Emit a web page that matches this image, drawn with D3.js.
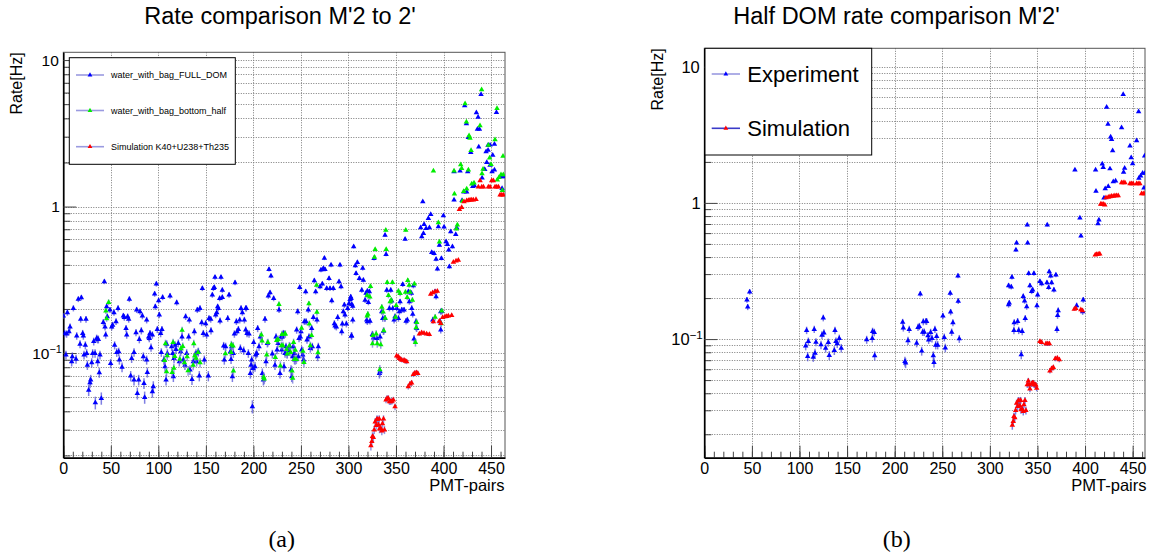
<!DOCTYPE html>
<html>

<head>
	<title>Rate comparison</title>
	<meta charset="utf-8">
	<script src="https://d3js.org/d3.v7.min.js"></script>
	<style>
		body { margin: 0; background: #fff; }
		text { font-family: "Liberation Sans", Arial, sans-serif; fill: #000; }
	</style>
</head>

<body>

	<svg id="chart" width="1149" height="559"></svg>

	<script>
		// PMT-pair index and rate [Hz]
		var fullDom = [
			[0.0,0.179],[4.3,0.189],[1.4,0.136],[3.5,0.135],[7.1,0.151],[6.0,0.140],[2.8,0.097],[9.5,0.0945],[8.8,0.0873],[13.4,0.091],
			[10.6,0.202],[14.1,0.131],[15.8,0.233],[19.0,0.239],[18.3,0.170],[17.6,0.115],[20.4,0.136],[21.1,0.131],[21.8,0.097],[23.2,0.113],
			[23.9,0.170],[24.6,0.0995],[25.3,0.0828],[26.7,0.0559],[28.1,0.0628],[28.8,0.0655],[29.9,0.0859],[30.9,0.0995],[32.0,0.120],[33.4,0.0995],
			[33.7,0.0458],[35.1,0.126],[36.2,0.124],[36.9,0.124],[36.2,0.0873],[37.9,0.0735],[38.6,0.097],[40.0,0.0491],[42.1,0.162],[43.2,0.307],
			[43.9,0.151],[44.6,0.133],[45.6,0.207],[46.3,0.177],[49.1,0.197],[49.8,0.085],[50.9,0.151],[51.9,0.155],[53.3,0.189],[54.0,0.113],
			[55.5,0.164],[56.2,0.101],[57.6,0.202],[58.3,0.102],[59.0,0.0897],[61.8,0.080],[63.2,0.179],[64.2,0.175],[66.0,0.147],[66.7,0.133],
			[67.7,0.177],[68.8,0.170],[69.5,0.233],[71.9,0.092],[70.9,0.0697],[74.4,0.0655],[74.4,0.101],[76.5,0.138],[77.9,0.0531],[79.3,0.0655],
			[77.2,0.197],[80.0,0.124],[80.7,0.192],[82.1,0.142],[83.2,0.179],[84.2,0.0945],[84.9,0.0621],[85.6,0.0498],[87.7,0.0897],[88.4,0.0738],
			[87.7,0.168],[89.8,0.129],[90.5,0.126],[91.2,0.136],[92.3,0.109],[93.7,0.0545],[94.7,0.059],[93.7,0.133],[96.1,0.253],[96.8,0.207],
			[97.9,0.296],[98.9,0.145],[100.3,0.228],[101.0,0.182],[102.4,0.136],[103.1,0.101],[103.8,0.145],[104.5,0.240],[105.9,0.0897],[107.0,0.0807],
			[108.1,0.0655],[108.8,0.115],[109.5,0.0995],[112.3,0.245],[114.0,0.1105],[115.1,0.0995],[115.8,0.069],[116.5,0.092],[117.5,0.113],[118.6,0.106],
			[119.3,0.221],[121.0,0.1165],[122.1,0.0873],[123.5,0.102],[124.9,0.129],[126.3,0.0897],[128.0,0.0828],[128.7,0.177],[129.8,0.0995],[131.9,0.129],
			[132.6,0.168],[133.3,0.0766],[135.4,0.0661],[136.8,0.0873],[137.9,0.140],[139.6,0.0995],[140.3,0.0873],[141.0,0.197],[142.1,0.102],[143.1,0.0697],
			[143.8,0.202],[145.6,0.161],[146.3,0.276],[147.3,0.136],[148.4,0.0897],[149.8,0.159],[150.8,0.133],[152.6,0.0697],[153.3,0.1725],
			[155.4,0.142],[155.1,0.170],[156.8,0.249],[157.9,0.276],[158.9,0.281],[159.6,0.329],[160.3,0.182],[161.4,0.189],[162.4,0.207],[163.1,0.202],
			[164.5,0.236],[164.9,0.166],[165.9,0.329],[167.3,0.269],[167.3,0.240],[168.7,0.112],[169.4,0.0897],[170.8,0.1105],[173.0,0.1725],[174.4,0.249],
			[175.8,0.102],[176.5,0.0906],[177.2,0.1105],[177.9,0.069],[178.9,0.0995],[180.0,0.135],[180.7,0.302],[182.1,0.164],[182.8,0.140],[184.2,0.145],
			[185.6,0.168],[186.3,0.1076],[187.0,0.202],[188.4,0.189],[189.8,0.104],[190.5,0.168],[191.9,0.202],[191.9,0.1436],[192.6,0.202],[193.3,0.136],
			[194.7,0.0995],[195.4,0.135],[196.8,0.0727],[197.5,0.0828],[198.2,0.0897],[198.9,0.0431],[199.6,0.0786],[200.3,0.118],[201.7,0.0807],[202.4,0.097],
			[203.5,0.0995],[204.5,0.147],[205.9,0.1105],[207.3,0.129],[209.4,0.0727],[210.5,0.0655],[212.2,0.170],[213.3,0.0873],[214.7,0.1165],[215.7,0.245],
			[216.4,0.373],[217.5,0.258],[218.5,0.336],[219.9,0.0985],[221.3,0.236],[222.7,0.0828],[223.8,0.129],[224.9,0.105],[225.9,0.1165],[227.0,0.197],
			[228.0,0.0727],[229.1,0.129],[229.8,0.105],[230.5,0.129],[231.5,0.136],[232.2,0.0807],[233.3,0.0995],[234.3,0.1105],[235.4,0.0985],[237.5,0.104],
			[238.5,0.1105],[239.6,0.0766],[240.3,0.069],[241.3,0.0945],[242.0,0.1105],[243.1,0.0995],[243.8,0.0897],[245.5,0.1436],[246.6,0.192],[247.3,0.0945],
			[248.0,0.126],[248.7,0.281],[249.4,0.129],[250.1,0.140],[250.8,0.105],[251.9,0.097],[252.9,0.0897],[253.6,0.164],[255.0,0.262],[255.4,0.164],
			[256.4,0.123],[257.8,0.197],[258.5,0.129],[259.9,0.1076],[261.3,0.147],[262.0,0.1105],[263.1,0.175],[264.1,0.312],[265.5,0.262],[266.9,0.168],
			[267.6,0.0945],[268.3,0.1105],[270.1,0.284],[271.1,0.369],[272.5,0.296],[273.6,0.378],[274.7,0.445],[275.3,0.373],[277.1,0.276],[279.6,0.3235],
			[280.6,0.276],[281.7,0.399],[282.4,0.228],[284.1,0.276],[285.2,0.159],[285.9,0.153],[287.3,0.151],[288.7,0.175],[290.1,0.307],[291.1,0.399],
			[292.2,0.284],[292.9,0.140],[293.6,0.158],[294.6,0.192],[295.7,0.213],[296.4,0.182],[297.8,0.158],[299.2,0.202],[300.6,0.218],[301.7,0.2325],
			[302.4,0.242],[303.4,0.131],[304.5,0.209],[305.5,0.532],
			[439.5,5.83],[422.3,4.88],[434.6,4.37],[436.4,4.08],[455.7,4.39],[424.1,3.68],[435.7,3.38],[437.8,3.38],[426.2,2.97],[437.1,2.55],
			[446.9,2.62],[449.0,2.63],[453.6,2.67],[444.8,2.37],[446.9,2.43],[428.7,2.34],[451.8,2.24],[445.5,2.00],[449.0,1.92],[453.6,1.78],
			[451.1,1.73],[443.4,1.79],[440.6,1.57],[411.1,1.73],[417.4,1.75],[425.5,1.73],[430.8,1.37],[432.5,1.39],[421.6,1.26],[424.4,1.26],
			[419.5,1.10],[411.1,1.11],[461.3,1.60],[463.0,1.60],[461.6,1.33],[378.2,1.08],[399.9,0.866],[386.6,0.885],[384.1,0.831],
			[379.6,0.756],[376.0,0.717],[381.7,0.710],[377.1,0.623],[378.9,0.656],[385.2,0.717],[400.6,0.725],[394.6,0.729],[359.6,0.600],[338.5,0.639],
			[407.6,0.673],[412.9,0.646],[413.9,0.717],[402.7,0.576],[395.7,0.546],[404.1,0.552],[409.4,0.532],[405.5,0.505],[387.6,0.487],[390.1,0.479],
			[392.2,0.438],[397.8,0.443],[393.6,0.375],[406.2,0.389],[339.6,0.472],[326.9,0.443],[307.3,0.395],[309.4,0.416],[308.0,0.350],[311.5,0.3235],
			[315.0,0.379],[315.7,0.315],[314.0,0.269],[319.9,0.265],[318.5,0.256],[322.0,0.262],[321.0,0.222],[317.5,0.230],[303.5,0.215],[302.8,0.236],
			[304.5,0.168],[303.1,0.131],[319.2,0.168],[319.9,0.164],[322.7,0.165],[325.2,0.134],[326.3,0.127],[329.8,0.126],[333.3,0.129],[336.8,0.141],
			[335.0,0.192],[336.1,0.1725],[338.2,0.1725],[344.5,0.269],[340.3,0.269],[345.5,0.2265],[343.1,0.202],[346.6,0.202],[350.8,0.202],[353.6,0.192],
			[356.1,0.197],[358.5,0.197],[352.6,0.1725],[360.6,0.165],[362.0,0.168],[354.3,0.224],[357.1,0.294],[363.1,0.262],[366.2,0.256],[364.1,0.224],
			[368.3,0.288],[366.6,0.202],[371.1,0.164],[371.8,0.1475],[367.6,0.184],[369.0,0.125],[348.0,0.168],[349.0,0.177],[388.7,0.168],[397.1,0.192],
			[396.4,0.164],[397.1,0.144],[332.6,0.0727],[333.3,0.0746],[398.1,0.193],[392.2,0.2425],[391.1,0.262]
		];

		// bottom half of the DOM (green on the left, "Experiment" on the right)
		var halfDom = [
			[44.8,0.194],[45.6,0.172],[47.7,0.222],[106.5,0.089],[107.5,0.116],[108.6,0.0745],[109.3,0.096],[114.5,0.0738],[115.5,0.118],[116.3,0.0789],
			[117.3,0.095],[122.6,0.0908],[123.6,0.107],[125.0,0.143],[125.7,0.111],[127.5,0.0859],[130.3,0.0944],[131.3,0.0758],[136.6,0.0825],[137.3,0.116],
			[138.3,0.096],[139.7,0.0924],[141.8,0.101],[143.9,0.0859],[170.6,0.099],[176.5,0.101],[176.8,0.114],[178.6,0.112],[179.0,0.0754],
			[208.4,0.133],[209.1,0.121],[210.8,0.0685],[211.5,0.0667],[214.0,0.0972],[215.3,0.118],[223.1,0.0935],[224.5,0.122],[225.9,0.124],[226.9,0.215],
			[228.4,0.0817],[229.4,0.1125],[230.1,0.134],[231.1,0.1125],[232.9,0.135],[233.6,0.135],[235.0,0.106],[235.7,0.0988],[237.8,0.112],[239.2,0.101],
			[240.6,0.0754],[241.3,0.0674],[242.3,0.118],[243.1,0.0904],[244.1,0.1045],[245.2,0.0904],[250.7,0.148],[252.1,0.103],[253.2,0.0863],[258.4,0.217],
			[258.8,0.158],[259.9,0.1125],[261.2,0.132],[266.5,0.291],[266.8,0.190],[267.9,0.1005],
			[319.7,0.247],[319.7,0.179],[320.4,0.184],[322.5,0.242],[323.2,0.285],[325.3,0.116],[325.6,0.132],[327.4,0.452],[328.1,0.509],[329.2,0.135],
			[330.3,0.116],[333.0,0.077],[334.0,0.114],[335.1,0.206],[336.5,0.191],[337.2,0.142],[338.7,0.173],[339.3,0.69],[339.7,0.509],[340.8,0.303],
			[342.1,0.247],[343.9,0.224],[345.0,0.23],[346.3,0.303],[349.5,0.176],[350.2,0.211],[352.6,0.265],[354.4,0.255],[360.0,0.26],[360.3,0.69],
			[361.8,0.24],[362.4,0.313],[363.9,0.291],[364.9,0.26],[367.3,0.23],[369.4,0.296],[370.5,0.118],[371.2,0.149],[371.8,0.162],[389.4,1.75],
			[391.2,0.176],[394.6,0.776],[395.7,0.573],[397.5,0.159],[398.1,0.194],[411.1,1.75],[411.5,1.22],[413.6,0.705],[414.6,0.75],[418.1,1.93],
			[419.1,1.82],[419.9,1.09],[421.2,1.27],[422.7,5.04],[424.1,3.78],[424.4,1.32],[426.2,1.78],[426.9,3.05],[427.9,2.93],[429.0,2.42],
			[429.7,1.43],[432.1,1.45],[438.4,3.57],[440.1,6.27],[440.5,1.68],[441.6,1.80],[447.2,2.62],[448.5,2.15],[450.0,1.94],[454.2,2.86],
			[456.3,4.68],[456.6,1.52],[458.4,1.58],[460.5,1.65],[461.9,1.29],[462.6,2.21],[462.9,1.65]
		];

		// simulation K40+U238+Th235 shown with the full DOM (left)
		var simFull = [
			[323.6,0.0233],[324.6,0.0249],[325.3,0.027],[326.2,0.0265],[327.1,0.0299],[328.1,0.0339],[329.2,0.032],[329.8,0.0353],[330.6,0.0353],[331.6,0.0324],
			[332.4,0.0355],[332.7,0.0303],[334.0,0.0306],[335.1,0.0294],[335.8,0.033],[336.9,0.0355],[337.9,0.0299],
			[339.5,0.0478],[340.6,0.049],[342.0,0.049],[343.2,0.0466],[344.4,0.0466],[345.8,0.047],[347.2,0.0478],[349.0,0.043],
			[350.7,0.0955],[352.5,0.094],[353.6,0.092],[355.0,0.091],[356.2,0.0895],[358.5,0.0895],[360.0,0.088],[361.3,0.0873],
			[363.0,0.059],[364.8,0.0615],[366.5,0.0625],[368.3,0.0715],[369.8,0.073],[371.5,0.0735],[373.0,0.0727],
			[374.6,0.135],[377.0,0.138],[379.5,0.1365],[382.3,0.135],[385.1,0.134],[386.5,0.252],[388.6,0.258],[391.1,0.262],[393.5,0.265],
			[389.3,0.1637],[395.6,0.165],[397.1,0.1594],[399.1,0.1754],[401.6,0.177],[403.3,0.178],[405.1,0.1794],[408.6,0.181],
			[410.4,0.418],[413.2,0.425],[415.6,0.431],[416.7,0.957],[419.1,0.987],[421.6,1.08],[424.4,1.096],[426.2,1.10],[427.9,1.108],
			[429.7,1.11],[431.4,1.108],[434.2,1.12],[436.7,1.36],[438.5,1.50],[440.2,1.36],[442.0,1.36],[447.2,1.36],[449.0,1.36],
			[450.7,1.50],[452.5,1.50],[454.2,1.36],[456.0,1.36],[457.8,1.36],[459.5,1.20],[461.3,1.20],[463.0,1.20]
		];

		// simulation for the half DOM (right)
		var simHalf = [
			[323.6,0.0233],[324.6,0.0249],[325.3,0.027],[326.2,0.0265],[327.1,0.0299],[328.1,0.0339],[329.2,0.032],[329.8,0.0353],[330.6,0.0353],[331.6,0.0324],
			[332.4,0.0355],[332.7,0.0303],[334.0,0.0306],[335.1,0.0294],[335.8,0.033],[336.9,0.0355],[337.9,0.0299],[339.3,0.0462],[340.4,0.0494],[341.2,0.0462],
			[342.1,0.043],[343.9,0.0468],[344.7,0.0476],[345.6,0.0476],[346.5,0.0462],[347.4,0.0462],[348.3,0.046],[349.2,0.0437],[352.6,0.096],[354.4,0.0944],
			[359.0,0.0924],[360.8,0.0924],[362.5,0.0924],[363.1,0.0585],[364.9,0.0607],[366.7,0.0619],[368.8,0.0717],[370.9,0.0725],[373.0,0.0705],[388.7,0.166],
			[390.3,0.168],[395.6,0.1643],[397.3,0.1616],[410.7,0.415],[412.1,0.418],[413.8,0.421],[415.5,0.422],[416.4,0.978],[417.7,0.978],[419.1,0.978],
			[420.8,0.966],[422.0,1.094],[424.4,1.10],[426.2,1.11],[427.9,1.12],[429.7,1.12],[431.4,1.13],[433.2,1.13],[434.9,1.13],[438.4,1.41],
			[440.1,1.41],[441.9,1.41],[447.2,1.386],[448.9,1.386],[450.5,1.386],[454.2,1.386],[455.9,1.386],[457.6,1.386],[459.4,1.17],[461.2,1.17],
			[462.9,1.17]
		];

		var xMajorTicks = [0, 50, 100, 150, 200, 250, 300, 350, 400, 450];
		var yLabelTicks = [0.1, 1, 10];
		var legendLeft = ['water_with_bag_FULL_DOM', 'water_with_bag_bottom_half', 'Simulation K40+U238+Th235'];
		var legendRight = ['Experiment', 'Simulation'];

		// counting time used for the Poisson error bars
		var expLiveTime = 2200;
		var simLiveTime = 8000;

		var svg = d3.select('#chart');
		var defs = svg.append('defs');

		var panels = [
			{ id: 'a', left: 63.3, right: 505, top: 52.3, bottom: 457.7, xMax: 464.7, yMin: 0.0193, yMax: 11.3,
				title: "Rate comparison M'2 to 2'", titleX: 280, caption: '(a)', capX: 281.7,
				yTitleX: 21.5, yTickFont: 15.5, xTitleRight: 504.5 },
			{ id: 'b', left: 704.3, right: 1145, top: 48.3, bottom: 457.7, xMax: 463, yMin: 0.01346, yMax: 13.65,
				title: "Half DOM rate comparison M'2'", titleX: 896.5, caption: '(b)', capX: 896.7,
				yTitleX: 663, yTickFont: 16.5, xTitleRight: 1146.5 }
		];

		function isDecade(v) {
			var l = Math.log10(v);
			return Math.abs(l - Math.round(l)) < 1e-6;
		}

		function drawPanel(p) {
			var x = d3.scaleLinear().domain([0, p.xMax]).range([p.left, p.right]);
			var y = d3.scaleLog().domain([p.yMin, p.yMax]).range([p.bottom, p.top]);
			var g = svg.append('g');

			defs.append('clipPath').attr('id', 'clip-' + p.id)
				.append('rect')
				.attr('x', p.left).attr('y', p.top)
				.attr('width', p.right - p.left).attr('height', p.bottom - p.top);

			var yAll = y.ticks().filter(function(v) { return v >= p.yMin && v <= p.yMax; });

			// grid
			var grid = g.append('g')
				.attr('stroke', '#7a7a7a')
				.attr('stroke-width', 1)
				.attr('stroke-dasharray', '1,1.5');
			grid.selectAll('.gy').data(yAll).enter().append('line')
				.attr('x1', p.left).attr('x2', p.right)
				.attr('y1', function(d) { return Math.round(y(d)) + 0.5; })
				.attr('y2', function(d) { return Math.round(y(d)) + 0.5; });
			grid.selectAll('.gx').data(xMajorTicks.filter(function(d) { return d > 0; })).enter().append('line')
				.attr('y1', p.top).attr('y2', p.bottom)
				.attr('x1', function(d) { return Math.round(x(d)) + 0.5; })
				.attr('x2', function(d) { return Math.round(x(d)) + 0.5; });

			// frame
			g.append('rect')
				.attr('x', p.left).attr('y', p.top)
				.attr('width', p.right - p.left).attr('height', p.bottom - p.top)
				.attr('fill', 'none').attr('stroke', '#555').attr('stroke-width', 1);

			// x axis, ticks pointing into the frame
			g.append('g')
				.attr('transform', 'translate(0,' + p.bottom + ')')
				.call(d3.axisBottom(x).tickValues(d3.range(0, p.xMax, 10)).tickSize(-6).tickSizeOuter(0).tickFormat(''))
				.call(function(a) { a.select('.domain').remove(); a.selectAll('line').attr('stroke', '#444'); });

			g.append('g')
				.attr('transform', 'translate(0,' + p.bottom + ')')
				.call(d3.axisBottom(x).tickValues(xMajorTicks).tickSize(-12).tickSizeOuter(0).tickPadding(5))
				.attr('font-size', 16)
				.attr('font-family', '"Liberation Sans", Arial, sans-serif')
				.call(function(a) {
					a.select('.domain').attr('stroke', '#000').attr('stroke-width', 1.6);
					a.selectAll('line').attr('stroke', '#444');
				});

			// y axis
			g.append('g')
				.attr('transform', 'translate(' + p.left + ',0)')
				.call(d3.axisLeft(y).tickValues(yAll.filter(function(v) { return !isDecade(v); }))
					.tickSize(-7).tickSizeOuter(0).tickFormat(''))
				.call(function(a) { a.select('.domain').remove(); a.selectAll('line').attr('stroke', '#444'); });

			g.append('g')
				.attr('transform', 'translate(' + p.left + ',0)')
				.call(d3.axisLeft(y).tickValues(yAll.filter(isDecade)).tickSize(-13).tickSizeOuter(0).tickFormat(''))
				.call(function(a) {
					a.select('.domain').attr('stroke', '#000').attr('stroke-width', 1.6);
					a.selectAll('line').attr('stroke', '#444');
				});

			// y tick labels, 10^n style
			yLabelTicks.forEach(function(v) {
				var e = Math.round(Math.log10(v));
				var t = g.append('text')
					.attr('y', y(v))
					.attr('dy', '0.36em')
					.attr('text-anchor', 'end')
					.attr('font-size', p.yTickFont);
				if (e === 0) {
					t.attr('x', p.left - 3.5).text('1');
				} else if (e === 1) {
					t.attr('x', p.left - 4.5).text('10');
				} else {
					t.attr('x', p.left - 1.5);
					t.append('tspan').text('10');
					t.append('tspan').attr('font-size', p.yTickFont * 0.7).attr('dy', '-0.55em').text('\u2212' + (-e));
				}
			});

			// titles
			svg.append('text')
				.attr('x', p.titleX).attr('y', 23.5)
				.attr('text-anchor', 'middle')
				.attr('font-size', 23.5)
				.text(p.title);

			svg.append('text')
				.attr('transform', 'translate(' + p.yTitleX + ',' + p.top + ') rotate(-90)')
				.attr('text-anchor', 'end')
				.attr('font-size', 16)
				.text('Rate[Hz]');

			svg.append('text')
				.attr('x', p.xTitleRight).attr('y', 491)
				.attr('text-anchor', 'end')
				.attr('font-size', 16.5)
				.text('PMT-pairs');

			svg.append('text')
				.attr('x', p.capX).attr('y', 547)
				.attr('text-anchor', 'middle')
				.attr('font-size', 24)
				.style('font-family', '"Liberation Serif", "Times New Roman", serif')
				.text(p.caption);

			var plot = g.append('g').attr('clip-path', 'url(#clip-' + p.id + ')');

			function drawSeries(data, color, errColor, liveTime) {
				var s = plot.append('g');
				s.selectAll('line').data(data).enter().append('line')
					.attr('x1', function(d) { return x(d[0]); })
					.attr('x2', function(d) { return x(d[0]); })
					.attr('y1', function(d) { return y(d[1] + Math.sqrt(d[1] / liveTime)); })
					.attr('y2', function(d) { return y(d[1] - Math.sqrt(d[1] / liveTime)); })
					.attr('stroke', errColor)
					.attr('stroke-width', 1.5)
					.attr('opacity', 0.7);
				s.selectAll('path').data(data).enter().append('path')
					.attr('d', d3.symbol(d3.symbolTriangle, 13))
					.attr('transform', function(d) { return 'translate(' + x(d[0]) + ',' + y(d[1]) + ')'; })
					.attr('fill', color);
			}

			return { drawSeries: drawSeries };
		}

		function drawLegend(box, labels, colors, lineColors, fontSize, rowY, lineX, textX) {
			var lg = svg.append('g');
			lg.append('rect')
				.attr('x', box[0]).attr('y', box[1])
				.attr('width', box[2] - box[0]).attr('height', box[3] - box[1])
				.attr('fill', '#fff').attr('stroke', '#000').attr('stroke-width', 1);
			var rows = lg.selectAll('.row').data(labels).enter().append('g')
				.attr('transform', function(d, i) { return 'translate(0,' + rowY[i] + ')'; });
			rows.append('line')
				.attr('x1', lineX[0]).attr('x2', lineX[1])
				.attr('stroke', function(d, i) { return lineColors[i]; })
				.attr('stroke-width', 1.6);
			rows.append('path')
				.attr('d', d3.symbol(d3.symbolTriangle, 10))
				.attr('transform', 'translate(' + (lineX[0] + lineX[1]) / 2 + ',0)')
				.attr('fill', function(d, i) { return colors[i]; });
			rows.append('text')
				.attr('x', textX)
				.attr('dy', '0.36em')
				.attr('font-size', fontSize)
				.text(function(d) { return d; });
		}

		var left = drawPanel(panels[0]);
		left.drawSeries(fullDom, '#0000ff', '#4a4ad8', expLiveTime);
		left.drawSeries(halfDom, '#00ee00', '#6a6ad8', expLiveTime);
		left.drawSeries(simFull, '#ff0000', '#6a6ad8', simLiveTime);

		var right = drawPanel(panels[1]);
		right.drawSeries(halfDom, '#0000ff', '#4a4ad8', expLiveTime);
		right.drawSeries(simHalf, '#ff0000', '#4a4ad8', simLiveTime);

		drawLegend([69.3, 57.7, 235.3, 164.3], legendLeft, ['#0000ff', '#00ee00', '#ff0000'],
			['#9a9ae0', '#9a9ae0', '#9a9ae0'], 9, [75, 110.5, 146.7], [76, 104], 111);
		drawLegend([705, 48.3, 871.7, 155], legendRight, ['#0000ff', '#ff0000'],
			['#9a9ae0', '#3a3ac8'], 22, [74, 128.3], [711.7, 740], 747.3);
	</script>
</body>

</html>
